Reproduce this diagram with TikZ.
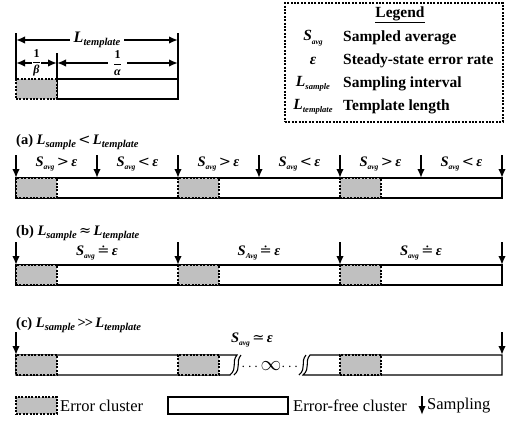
\documentclass[tikz,border=0pt]{standalone}
\usepackage{fontspec}
\setmainfont{Liberation Serif}
\newfontfamily\relf{DejaVu Serif}
\usepackage{amsmath}
\usetikzlibrary{arrows.meta,positioning}
\definecolor{clgray}{RGB}{192,192,192}
\newcommand\bigf{\fontsize{14.5}{16}\selectfont}
\newcommand\legf{\fontsize{15.5}{18}\selectfont}
\newcommand\Sx[1]{\textit{S}\raisebox{-0.55ex}{\fontsize{7.5}{8}\selectfont\textit{#1}}}
\newcommand\Lx[1]{\textit{L}\raisebox{-0.5ex}{\fontsize{10.5}{10}\selectfont\textit{#1}}}
\newcommand\Lsm[1]{\textit{L}\raisebox{-0.5ex}{\fontsize{8.5}{9}\selectfont\textit{#1}}}
\newcommand\eps{\textit{ε}}
\newcommand\rel[1]{\,{\relf\mdseries #1}\,}
\tikzset{
  >={Latex[length=9pt,width=7.5pt]},
  freec/.style={draw,line width=1.1pt,fill=white,minimum height=20pt,inner sep=0pt,outer sep=0pt,anchor=north west},
  errc/.style={preaction={draw=white,line width=1.6pt},draw,line width=1.1pt,dash pattern=on 2pt off 1.4pt,
    fill=clgray,minimum height=20pt,inner sep=0pt,outer sep=0pt,anchor=north west},
  samp/.style={->,line width=2pt},
  dimline/.style={<->,line width=2pt},
  lbl/.style={font=\bigf\bfseries,inner sep=0pt},
  caselbl/.style={font=\bigf\bfseries,inner sep=0pt,anchor=west},
  legsym/.style={font=\legf\bfseries,inner sep=0pt},
  legtext/.style={font=\legf\bfseries,inner sep=0pt,anchor=west},
  keytext/.style={font=\fontsize{16.5}{18}\selectfont,inner sep=0pt,anchor=west},
}

\begin{document}
\begin{tikzpicture}[x=1pt,y=-1pt]
  \useasboundingbox (0,0) rectangle (506,421);
  % template
  \node[freec,minimum width=121pt] (tw) at (57,79) {};
  \node[errc,minimum width=41pt] (tg) at (16,79) {};
  \coordinate (tl) at (16,33); \coordinate (tr) at (178,33); \coordinate (tm) at (57,53);
  \draw[line width=1.3pt] (tl) -- (tg.north west);
  \draw[line width=1.3pt] (tr) -- (tw.north east);
  \draw[line width=1.3pt] (tm) -- (tw.north west);
  \coordinate (dl) at (16,40); \coordinate (dr) at (178,40);
  \coordinate (bl) at (16,63); \coordinate (bm) at (57,63); \coordinate (br) at (178,63);
  \draw[dimline] (dl) -- node[lbl,fill=white,inner xsep=4pt] (ltpl) {\fontsize{16}{16}\selectfont\Lx{template}} (dr);
  \draw[dimline] (bl) -- node[lbl,fill=white,inner sep=0pt] (fb) {\fontsize{12}{12}\selectfont$\dfrac{\text{\bfseries 1}}{\text{\bfseries\itshape β}}$} (bm);
  \draw[dimline] (bm) -- node[lbl,fill=white,inner xsep=5pt] (fa) {\fontsize{12}{12}\selectfont$\dfrac{\text{\bfseries 1}}{\text{\bfseries\itshape α}}$} (br);

  % legend box
  \node[draw,line width=1.1pt,dash pattern=on 2pt off 1.4pt,minimum width=218pt,minimum height=119pt,
    anchor=north west,inner sep=0pt,outer sep=0pt] (legbox) at (285,3) {};
  \node[legsym] (legt) at (400,15) {\underline{Legend}};
  \node[legsym] (ls1) at (313,38) {\Sx{avg}};
  \node[legtext] (lt1) at (343,38) {Sampled average};
  \node[legsym] (ls2) at (313,61) {\eps};
  \node[legtext] (lt2) at (343,61) {Steady-state error rate};
  \node[legsym] (ls3) at (313,84) {\Lsm{sample}};
  \node[legtext] (lt3) at (343,84) {Sampling interval};
  \node[legsym] (ls4) at (313,107) {\Lsm{template}};
  \node[legtext] (lt4) at (343,107) {Template length};

  % (a)
  \node[caselbl] (capa) at (16,142) {(a) \Lx{sample}\rel{<}\Lx{template}};
  \node[freec,minimum width=486pt] (abar) at (16,178) {};
  \foreach \i in {0,1,2} {
    \node[errc,minimum width=41pt] (ag\i) at (16+162*\i,178) {};
    \node[lbl] (ahi\i) at (56.5+162*\i,164) {\Sx{avg}\rel{>}\eps};
    \node[lbl] (alo\i) at (137.5+162*\i,164) {\Sx{avg}\rel{<}\eps};
  }
  \foreach \k in {0,...,6} {
    \coordinate (sa\k) at (16+81*\k,155); \coordinate (ta\k) at (16+81*\k,178);
    \draw[samp] (sa\k) -- (ta\k);
  }

  % (b)
  \node[caselbl] (capb) at (16,233) {(b) \Lx{sample}\rel{≈}\Lx{template}};
  \node[freec,minimum width=486pt] (bbar) at (16,265) {};
  \foreach \i in {0,1,2} {
    \node[errc,minimum width=41pt] (bg\i) at (16+162*\i,265) {};
  }
  \foreach \k in {0,...,3} {
    \coordinate (sb\k) at (16+162*\k,242); \coordinate (tb\k) at (16+162*\k,265);
    \draw[samp] (sb\k) -- (tb\k);
  }
  \node[lbl] (beq0) at (97,253) {\Sx{avg}\rel{≐}\eps};
  \node[lbl] (beq1) at (259,253) {\Sx{Avg}\rel{≐}\eps};
  \node[lbl] (beq2) at (421,253) {\Sx{avg}\rel{≐}\eps};

  % (c)
  \node[caselbl] (capc) at (16,325) {(c) \Lx{sample}\,>{}\kern-1pt>\,\Lx{template}};
  \draw[line width=1.1pt,fill=white] (16,355) -- (237,355) .. controls (231,362) and (238,368) .. (230,375) -- (16,375) -- cycle;
  \draw[line width=1.1pt] (241,355) .. controls (235,362) and (242,368) .. (234,375);
  \draw[line width=1.1pt] (306,355) .. controls (300,362) and (307,368) .. (299,375);
  \draw[line width=1.1pt,fill=white] (502,355) -- (310,355) .. controls (304,362) and (311,368) .. (303,375) -- (502,375) -- cycle;
  \foreach \i in {0,1,2} {
    \node[errc,minimum width=41pt] (cg\i) at (16+162*\i,355) {};
  }
  \node[lbl] (cinf) at (271,366) {$\cdots${\fontsize{22}{22}\selectfont$\infty$}$\cdots$};
  \node[lbl] (ceq) at (252,340) {\Sx{avg}\rel{≃}\eps};
  \coordinate (sc0) at (16,332); \coordinate (tc0) at (16,355);
  \coordinate (sc1) at (502,332); \coordinate (tc1) at (502,355);
  \draw[samp] (sc0) -- (tc0);
  \draw[samp] (sc1) -- (tc1);

  % bottom legend
  \node[errc,minimum width=41pt,minimum height=17pt] (keyerr) at (16,397) {};
  \node[keytext] (keyerrt) at (60,406) {Error cluster};
  \node[freec,minimum width=120pt,minimum height=17pt] (keyfree) at (168,397) {};
  \node[keytext] (keyfreet) at (293,406) {Error-free cluster};
  \coordinate (ks) at (422,396); \coordinate (kt) at (422,415);
  \draw[samp] (ks) -- (kt);
  \node[keytext] (keysampt) at (427,406) {Sampling};
\end{tikzpicture}
\end{document}
